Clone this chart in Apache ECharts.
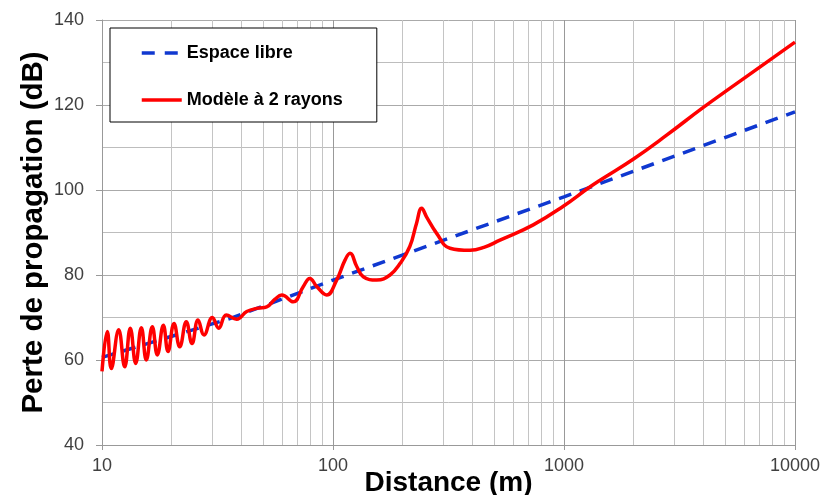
<!DOCTYPE html>
<html>
<head>
<meta charset="utf-8">
<script src="https://cdn.jsdelivr.net/npm/echarts@6/dist/echarts.min.js"></script>
<style>
html,body{margin:0;padding:0;background:#fff;}
#chart{width:824px;height:495px;}
</style>
</head>
<body>
<div id="chart"></div>
<script>
// Free-space line (distance m, loss dB)
var freeX = [10, 36, 100, 1000, 10000];
var freeY = [60.6, 69.8, 78.8, 98.4, 118.4];

// Two-ray model (distance m, loss dB)
var rayX = [10.0, 10.54, 10.97, 11.81, 12.54, 13.26, 13.99, 14.80, 15.55, 16.51, 17.36, 18.43, 19.31, 20.50, 21.70, 23.17, 24.53, 26.04, 27.65, 30.03, 32.01, 34.52, 38.30, 42.32, 47.35, 51.64, 56.1, 60.0, 67.3, 74.4, 79.4, 85.0, 93.9, 103.7, 112.7, 118.5, 126.7, 135.2, 154.6, 176.5, 195, 215, 230, 242, 254, 281, 321, 392, 450, 528, 736, 1000, 1270, 1432, 2000, 2782, 3956, 5407, 10000];
var rayY = [57.3, 66.7, 58.0, 67.1, 58.4, 67.5, 59.2, 67.6, 60.0, 67.8, 61.2, 68.2, 62.0, 68.6, 63.1, 69.0, 63.9, 69.4, 65.9, 70.0, 67.5, 70.6, 69.6, 71.4, 72.2, 72.5, 74.3, 75.3, 73.7, 77.3, 79.2, 77.3, 75.3, 78.8, 83.5, 85.1, 82.0, 79.6, 78.8, 80.0, 82.7, 86.7, 92.2, 95.7, 93.7, 89.8, 86.3, 85.8, 86.5, 88.2, 91.8, 96.3, 100.4, 102.3, 107.3, 112.9, 119.2, 124.5, 134.8];

var seriesNames = ['Espace libre', 'Modèle à 2 rayons'];
var minorGridX = [20, 30, 40, 50, 60, 70, 80, 90, 200, 300, 400, 500, 600, 700, 800, 900, 2000, 3000, 4000, 5000, 6000, 7000, 8000, 9000];

function pairs(xs, ys) { return xs.map(function (x, i) { return [x, ys[i]]; }); }

var FONT = "'Liberation Sans', Arial, sans-serif";
var BLUE = '#1038d0', RED = '#ff0000';
var chart = echarts.init(document.getElementById('chart'), null, {renderer: 'canvas'});
chart.setOption({
  animation: false,
  backgroundColor: '#ffffff',
  grid: {left: 102, right: 29, top: 20, bottom: 50, containLabel: false, outerBoundsMode: 'none'},
  legend: {
    data: [
      {name: seriesNames[0], lineStyle: {color: BLUE, width: 3.5, type: [13, 10]}},
      {name: seriesNames[1], lineStyle: {color: RED, width: 3.5, type: 'solid'}}
    ],
    orient: 'vertical',
    left: 110, top: 28,
    padding: [16, 34, 13, 30],
    itemGap: 29,
    itemWidth: 40, itemHeight: 20,
    itemStyle: {opacity: 0},
    backgroundColor: '#ffffff',
    borderColor: '#000000', borderWidth: 1,
    textStyle: {fontFamily: FONT, fontSize: 18, fontWeight: 'bold', color: '#000'}
  },
  xAxis: {
    type: 'log', logBase: 10, min: 10, max: 10000, splitNumber: 3,
    name: 'Distance (m)', nameLocation: 'middle', nameGap: 24, nameMoveOverlap: false,
    nameTextStyle: {fontFamily: FONT, fontSize: 28, fontWeight: 'bold', color: '#000'},
    axisLine: {show: true, lineStyle: {color: '#999', width: 1}},
    axisTick: {show: true, length: 5, lineStyle: {color: '#999'}},
    axisLabel: {fontFamily: FONT, fontSize: 18, color: '#404040', margin: 12,
      formatter: function (v) { return String(Math.round(v)); }},
    splitLine: {show: true, lineStyle: {color: '#999', width: 1}}
  },
  yAxis: {
    type: 'value', min: 40, max: 140, interval: 20,
    name: 'Perte de propagation (dB)', nameLocation: 'middle', nameGap: 53, nameMoveOverlap: false,
    nameTextStyle: {fontFamily: FONT, fontSize: 29.5, fontWeight: 'bold', color: '#000'},
    axisLine: {show: true, lineStyle: {color: '#999', width: 1}},
    axisTick: {show: true, length: 6, lineStyle: {color: '#999'}},
    axisLabel: {fontFamily: FONT, fontSize: 18, color: '#404040', margin: 18},
    splitLine: {show: true, lineStyle: {color: '#aaa', width: 1}},
    minorTick: {show: false, splitNumber: 2},
    minorSplitLine: {show: true, lineStyle: {color: '#bdbdbd', width: 1}}
  },
  series: [
    {
      name: 'grid-minor', type: 'line', data: [], silent: true, z: 1,
      markLine: {
        silent: true, z: 1, animation: false,
        symbol: ['none', 'none'],
        label: {show: false},
        lineStyle: {color: '#c4c4c4', type: 'solid', width: 1},
        emphasis: {disabled: true},
        data: minorGridX.map(function (v) { return {xAxis: v}; })
      }
    },
    {
      name: seriesNames[0], type: 'line', showSymbol: false, symbol: 'none', z: 3,
      data: pairs(freeX, freeY),
      lineStyle: {color: BLUE, width: 3.5, type: [13, 9]},
      itemStyle: {color: BLUE}
    },
    {
      name: seriesNames[1], type: 'line', showSymbol: false, symbol: 'none', z: 4,
      smooth: 0.45,
      data: pairs(rayX, rayY),
      lineStyle: {color: RED, width: 3.5},
      itemStyle: {color: RED}
    }
  ]
});
</script>
</body>
</html>
